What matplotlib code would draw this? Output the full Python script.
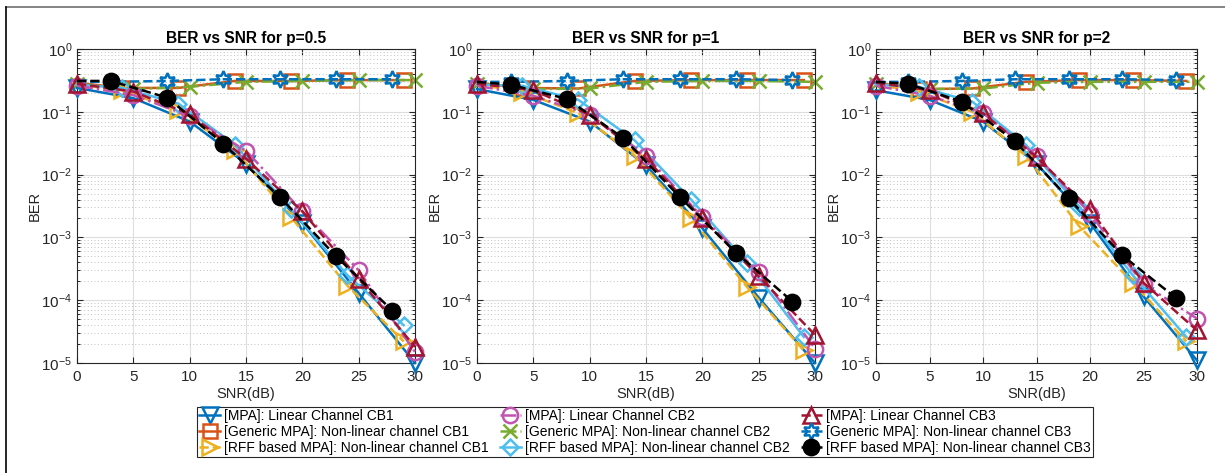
import matplotlib
matplotlib.use("Agg")
import matplotlib.pyplot as plt
import numpy as np
from matplotlib.lines import Line2D
import matplotlib.ticker as ticker

plt.rcParams['font.family'] = ['Liberation Sans', 'DejaVu Sans']
plt.rcParams['mathtext.fontset'] = 'custom'
plt.rcParams['mathtext.rm'] = 'Liberation Sans'
plt.rcParams['mathtext.it'] = 'Liberation Sans'

# SNR positions (first entry is the curve start, markers drawn from idx 1 on offset sets)
snr_5 = [0, 5, 10, 15, 20, 25, 30]
snr_4 = [0, 4, 9, 14, 19, 24, 29]
snr_3 = [0, 3, 8, 13, 18, 23, 28]

titles = ['BER vs SNR for p=0.5', 'BER vs SNR for p=1', 'BER vs SNR for p=2']

# BER values, one list per panel (p=0.5, p=1, p=2)
mpa_cb1 = [[0.24, 0.165, 0.070, 0.015, 0.0017, 1.3e-4, 1.0e-5],
           [0.23, 0.155, 0.070, 0.014, 0.0014, 1.1e-4, 1.0e-5],
           [0.22, 0.155, 0.070, 0.015, 0.0017, 1.15e-4, 1.1e-5]]
gen_cb1 = [[0.29, 0.24, 0.24, 0.31, 0.31, 0.32, 0.32],
           [0.29, 0.24, 0.235, 0.31, 0.32, 0.32, 0.32],
           [0.29, 0.23, 0.235, 0.30, 0.32, 0.32, 0.31]]
rff_cb1 = [[0.27, 0.22, 0.105, 0.025, 0.0021, 1.7e-4, 2.2e-5],
           [0.27, 0.21, 0.095, 0.020, 0.0020, 1.6e-4, 1.6e-5],
           [0.27, 0.21, 0.100, 0.020, 0.0015, 1.9e-4, 2.2e-5]]
mpa_cb2 = [[0.26, 0.185, 0.085, 0.024, 0.0026, 3.0e-4, 1.5e-5],
           [0.26, 0.180, 0.090, 0.020, 0.0021, 2.8e-4, 1.7e-5],
           [0.26, 0.180, 0.095, 0.020, 0.0024, 1.8e-4, 5.1e-5]]
gen_cb2 = [[0.28, 0.23, 0.25, 0.30, 0.31, 0.32, 0.32],
           [0.28, 0.23, 0.235, 0.30, 0.31, 0.31, 0.30],
           [0.28, 0.23, 0.235, 0.29, 0.30, 0.30, 0.30]]
rff_cb2 = [[0.27, 0.24, 0.135, 0.030, 0.0028, 2.5e-4, 4.0e-5],
           [0.27, 0.26, 0.155, 0.035, 0.0040, 3.9e-4, 2.6e-5],
           [0.27, 0.25, 0.145, 0.030, 0.0031, 2.5e-4, 2.6e-5]]
mpa_cb3 = [[0.28, 0.21, 0.092, 0.018, 0.0026, 2.2e-4, 1.8e-5],
           [0.28, 0.22, 0.090, 0.018, 0.0020, 2.4e-4, 2.8e-5],
           [0.29, 0.22, 0.095, 0.019, 0.0028, 1.9e-4, 3.3e-5]]
gen_cb3 = [[0.30, 0.30, 0.31, 0.33, 0.33, 0.33, 0.33],
           [0.30, 0.30, 0.31, 0.33, 0.33, 0.33, 0.32],
           [0.30, 0.30, 0.31, 0.33, 0.33, 0.33, 0.32]]
rff_cb3 = [[0.31, 0.31, 0.168, 0.031, 0.0044, 5.0e-4, 6.8e-5],
           [0.30, 0.27, 0.160, 0.038, 0.0044, 5.7e-4, 9.5e-5],
           [0.30, 0.28, 0.145, 0.034, 0.0042, 5.2e-4, 1.1e-4]]

labels = ['[MPA]: Linear Channel CB1', '[Generic MPA]: Non-linear channel CB1',
          '[RFF based MPA]: Non-linear channel CB1',
          '[MPA]: Linear Channel CB2', '[Generic MPA]: Non-linear channel CB2',
          '[RFF based MPA]: Non-linear channel CB2',
          '[MPA]: Linear Channel CB3', '[Generic MPA]: Non-linear channel CB3',
          '[RFF based MPA]: Non-linear channel CB3']

# (data, x, colour, linestyle, marker, filled)
series = [
    (mpa_cb1, snr_5, '#0072BD', '-', 'v', False),
    (gen_cb1, snr_4, '#D95319', '-', 's', False),
    (rff_cb1, snr_4, '#EDB120', '--', '>', False),
    (mpa_cb2, snr_5, '#C154B0', '-.', 'o', False),
    (gen_cb2, snr_5, '#77AC30', '-.', 'x', False),
    (rff_cb2, snr_4, '#4DBEEE', '-', 'D', False),
    (mpa_cb3, snr_5, '#A2142F', '--', '^', False),
    (gen_cb3, snr_3, '#0072BD', '--', (6, 1, 0), False),
    (rff_cb3, snr_3, 'black', '--', 'o', True),
]
zorders = [3, 2, 4, 5, 2, 4, 6, 3, 7]

fig = plt.figure(figsize=(12.25, 4.73), dpi=100)
W, H = 1225, 473
boxes = [(77, 338), (477, 338), (876, 321)]
top, bot = 49, 363

axc = '#262626'
for k, (x0, w) in enumerate(boxes):
    ax = fig.add_axes([x0 / W, (H - bot) / H, w / W, (bot - top) / H])
    for j, (data, xs, col, ls, mk, filled) in enumerate(series):
        me = None if xs is snr_5 else list(range(1, len(xs)))
        ms = 11 if mk in ('o', 'v', '^', '>') else (10 if mk != 'D' else 8)
        if mk == (6, 1, 0):
            ms = 12
        ax.plot(xs, data[k], color=col, linestyle=ls, linewidth=1.8,
                marker=mk, markersize=ms, markevery=me,
                markerfacecolor=col if filled else 'none',
                markeredgecolor=col, markeredgewidth=1.8,
                label=labels[j], clip_on=False, zorder=zorders[j])
    ax.set_yscale('log')
    ax.set_ylim(1e-5, 1)
    ax.set_xlim(0, 30)
    ax.xaxis.set_major_locator(ticker.MultipleLocator(5))
    ax.yaxis.set_major_locator(ticker.LogLocator(base=10, numticks=10))
    ax.yaxis.set_minor_locator(ticker.LogLocator(base=10, subs=np.arange(2, 10), numticks=10))
    ax.yaxis.set_minor_formatter(ticker.NullFormatter())
    ax.grid(True, which='major', color='#dedede', linewidth=0.8, linestyle='-')
    ax.grid(True, which='minor', axis='y', color='#c0c0c0', linewidth=0.7, linestyle=(0, (1, 2.5)))
    ax.set_axisbelow(True)
    ax.tick_params(which='both', direction='in', top=True, right=True,
                   colors=axc, labelsize=11, labelcolor='#262626')
    ax.tick_params(which='major', length=4, width=0.8)
    ax.tick_params(which='minor', length=2.5, width=0.7)
    ax.tick_params(axis='x', pad=5)
    for s in ax.spines.values():
        s.set_color(axc)
        s.set_linewidth(0.8)
    ax.set_title(titles[k], fontsize=11.2, fontweight='bold', pad=4)
    ax.set_xlabel('SNR(dB)', fontsize=10.5, color='#262626', labelpad=2)
    ax.set_ylabel('BER', fontsize=10.5, color='#262626', labelpad=0)

handles = fig.axes[0].get_legend_handles_labels()[0]
leg = fig.legend(handles, labels, ncol=3, loc='center',
                 bbox_to_anchor=(645 / W, (H - 432) / H), fontsize=10,
                 fancybox=False, edgecolor='#262626', framealpha=1,
                 borderpad=0.15, labelspacing=0.15, handlelength=1.5,
                 handletextpad=0.3, columnspacing=0.8, borderaxespad=0)
leg.get_frame().set_linewidth(0.8)

# outer frame lines visible on top and left of the reference
fig.add_artist(Line2D([6 / W, 1], [1 - 7 / H, 1 - 7 / H], transform=fig.transFigure,
                      color='#707070', linewidth=1.2))
fig.add_artist(Line2D([6 / W, 6 / W], [0, 1 - 7 / H], transform=fig.transFigure,
                      color='black', linewidth=1.2))

fig.savefig('out.png', dpi=100)
